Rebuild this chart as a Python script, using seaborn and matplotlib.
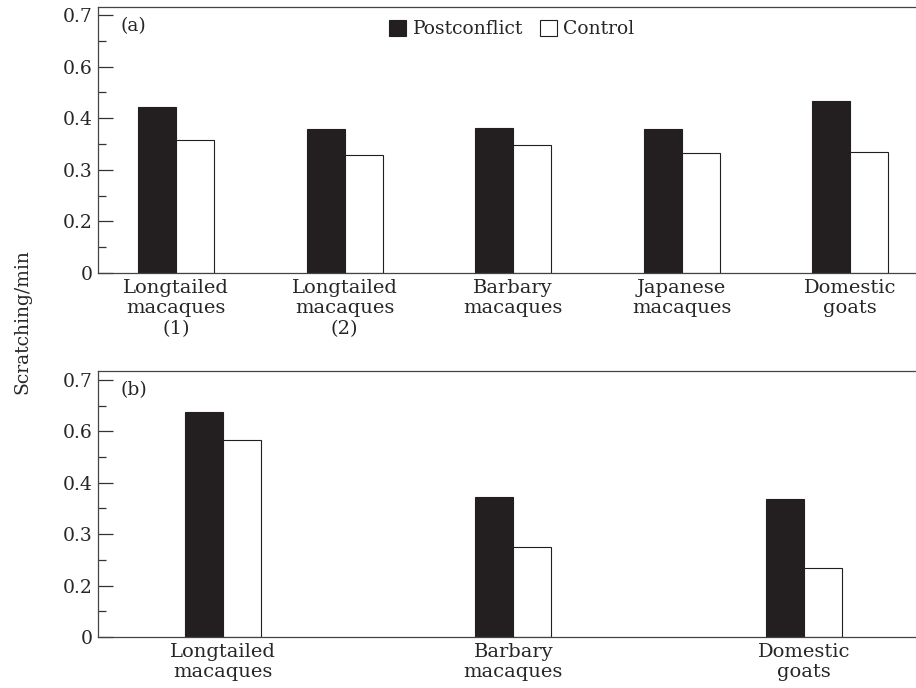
import numpy as np
import pandas as pd
import matplotlib
matplotlib.use('Agg')
import matplotlib.pyplot as plt
import seaborn as sns

# panel (a)
species_a = ['Longtailed\nmacaques\n(1)', 'Longtailed\nmacaques\n(2)', 'Barbary\nmacaques',
             'Japanese\nmacaques', 'Domestic\ngoats']
post_a = [0.443, 0.379, 0.381, 0.379, 0.467]
ctrl_a = [0.358, 0.329, 0.348, 0.333, 0.334]

# panel (b)
species_b = ['Longtailed\nmacaques', 'Barbary\nmacaques', 'Domestic\ngoats']
post_b = [0.638, 0.372, 0.368]
ctrl_b = [0.567, 0.275, 0.234]

conditions = ['Postconflict', 'Control']
tick_values = [0, 0.2, 0.3, 0.4, 0.6, 0.7]
tick_labels = ['0', '0.2', '0.3', '0.4', '0.6', '0.7']
minor_values = [0.1, 0.25, 0.35, 0.5, 0.65]

# the printed axis puts its labels at evenly spaced ticks, so map values onto tick positions
val_pts = np.array([-0.1, 0, 0.2, 0.3, 0.4, 0.6, 0.7, 0.8])
idx_pts = np.array([-1, 0, 2, 4, 6, 8, 10, 12])

def forward(v):
    return np.interp(v, val_pts, idx_pts)

def inverse(i):
    return np.interp(i, idx_pts, val_pts)


def make_df(species, post, ctrl):
    return pd.DataFrame({
        'species': species * 2,
        'condition': [conditions[0]] * len(species) + [conditions[1]] * len(species),
        'rate': list(post) + list(ctrl),
    })


sns.set_style('white')
plt.rcParams['font.family'] = ['DejaVu Serif']
plt.rcParams['font.size'] = 13.5
ink = '#231f20'
pal = {'Postconflict': ink, 'Control': 'white'}

fig = plt.figure(figsize=(9.16, 6.88), dpi=100)
W, H = 916, 688
ax1 = fig.add_axes([98 / W, (H - 273) / H, (W - 98) / W, (273 - 7) / H])
ax2 = fig.add_axes([98 / W, (H - 637) / H, (W - 98) / W, (637 - 371) / H])

panels = [
    (ax1, make_df(species_a, post_a, ctrl_a), 0.45, (-0.463, 4.39), 0.7155, '(a)'),
    (ax2, make_df(species_b, post_b, ctrl_b), 0.262, (-0.430, 2.386), 0.7175, '(b)'),
]

for ax, df, w, xl, ytop, tag in panels:
    sns.barplot(data=df, x='species', y='rate', hue='condition', palette=pal,
                width=w, saturation=1, edgecolor=ink, linewidth=0.8, ax=ax)
    ax.set_yscale('function', functions=(forward, inverse))
    ax.set_ylim(0, ytop)
    ax.set_xlim(*xl)
    ax.set_yticks(tick_values)
    ax.set_yticklabels(tick_labels)
    ax.set_yticks(minor_values, minor=True)
    ax.tick_params(axis='y', which='major', direction='in', length=11, width=0.9,
                   color='#333333', pad=4, left=True, labelsize=13.5)
    ax.tick_params(axis='y', which='minor', direction='in', length=5.8, width=0.9,
                   color='#333333', left=True)
    ax.tick_params(axis='x', length=0, pad=4, labelsize=14)
    ax.set_xlabel('')
    ax.set_ylabel('')
    for s in ['left', 'top', 'bottom']:
        ax.spines[s].set_visible(True)
        ax.spines[s].set_color('#444444')
        ax.spines[s].set_linewidth(0.9)
    ax.spines['right'].set_visible(False)
    ax.text(0.027, 0.93, tag, transform=ax.transAxes, fontsize=13.5, va='center', ha='left')
    leg = ax.get_legend()
    if leg is not None:
        leg.remove()

handles, labels = ax1.get_legend_handles_labels()
ax1.legend(handles, labels, loc='center', bbox_to_anchor=(0.506, 0.917), ncol=2,
           frameon=False, handlelength=0.9, handleheight=0.9, handletextpad=0.35,
           columnspacing=0.9, fontsize=13.5, borderaxespad=0)

fig.text(22 / W, 1 - 322 / H, 'Scratching/min', rotation=90, ha='center', va='center',
         fontsize=13.5)

fig.savefig('out.png', dpi=100)
